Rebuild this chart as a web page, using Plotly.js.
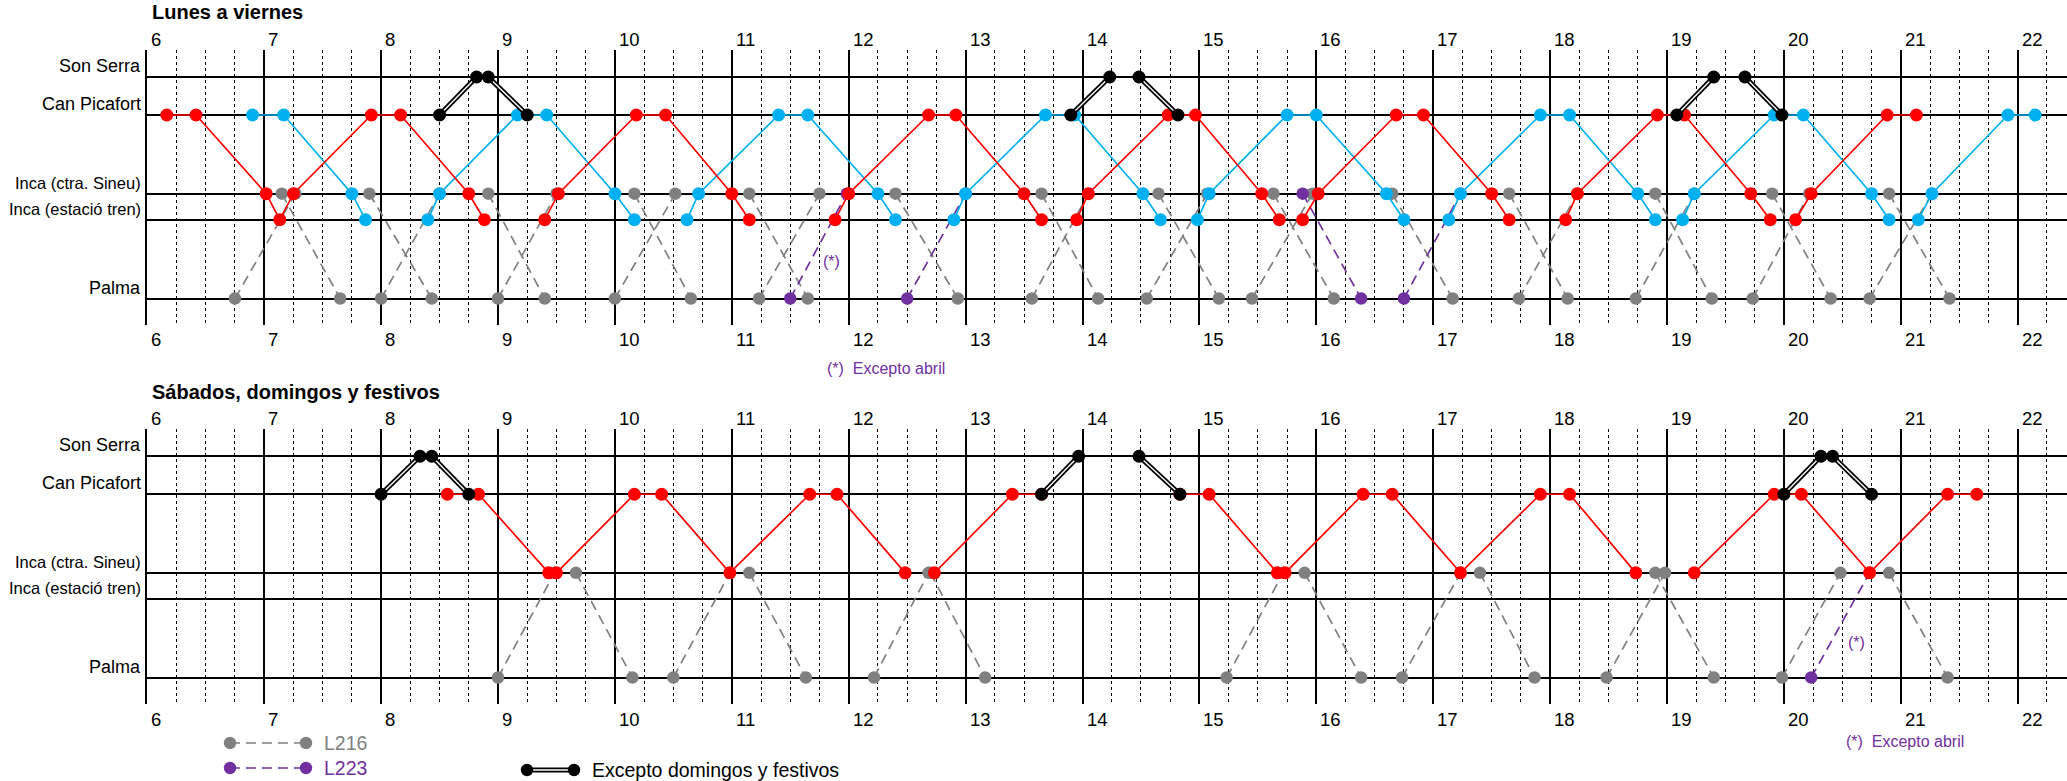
<!DOCTYPE html>
<html><head><meta charset="utf-8">
<script src="https://cdn.plot.ly/plotly-3.0.1.min.js"></script>
<style>html,body{margin:0;padding:0;background:#fff}</style>
</head><body><div id="chart" style="width:2067px;height:781px"></div>
<script>
// ---------------- DATA ----------------
const hourTicks  = [6,7,8,9,10,11,12,13,14,15,16,17,18,19,20,21,22];
const hourLabels = ["6","7","8","9","10","11","12","13","14","15","16","17","18","19","20","21","22"];
const stationCodes = ["SS","CP","IC","IE","PA"];
const stationNames = ["Son Serra","Can Picafort","Inca (ctra. Sineu)","Inca (estació tren)","Palma"];
const panelTitles = ["Lunes a viernes","Sábados, domingos y festivos"];

// Lunes a viernes
const wkRedTimes = ["6:10","6:25","7:01","7:08","7:15","7:55","8:10","8:45","8:53",null,
  "9:24","9:31","10:11","10:26","11:00","11:09",null,
  "11:53","12:00","12:41","12:55","13:30","13:39",null,
  "13:57","14:03","14:44","14:58","15:32","15:41",null,
  "15:53","16:01","16:41","16:55","17:30","17:39",null,
  "18:08","18:14","18:55","19:09","19:43","19:53",null,
  "20:06","20:14","20:53","21:08"];
const wkRedStops = ["CP","CP","IC","IE","IC","CP","CP","IC","IE",null,
  "IE","IC","CP","CP","IC","IE",null,
  "IE","IC","CP","CP","IC","IE",null,
  "IE","IC","CP","CP","IC","IE",null,
  "IE","IC","CP","CP","IC","IE",null,
  "IE","IC","CP","CP","IC","IE",null,
  "IE","IC","CP","CP"];
const wkBlueTimes = ["6:54","7:10","7:45","7:52",null,
  "8:24","8:30","9:10","9:25","10:00","10:10",null,
  "10:37","10:43","11:24","11:39","12:15","12:24",null,
  "12:54","13:00","13:41","13:56","14:31","14:40",null,
  "14:59","15:05","15:45","16:00","16:36","16:45",null,
  "17:08","17:14","17:55","18:10","18:45","18:54",null,
  "19:08","19:14","19:55","20:10","20:45","20:54",null,
  "21:09","21:16","21:55","22:09"];
const wkBlueStops = ["CP","CP","IC","IE",null,
  "IE","IC","CP","CP","IC","IE",null,
  "IE","IC","CP","CP","IC","IE",null,
  "IE","IC","CP","CP","IC","IE",null,
  "IE","IC","CP","CP","IC","IE",null,
  "IE","IC","CP","CP","IC","IE",null,
  "IE","IC","CP","CP","IC","IE",null,
  "IE","IC","CP","CP"];
const wkL216Times = ["6:45","7:16",null,"7:09","7:39",null,"7:54","8:26",null,"8:00","8:30",null,
  "8:55","9:24",null,"9:00","9:30",null,"10:10","10:39",null,"10:00","10:31",null,
  "11:09","11:39",null,"11:14","11:45",null,"12:24","12:56",null,"13:34","14:03",null,
  "13:39","14:08",null,"14:39","15:10",null,"14:33","15:04",null,"15:38","16:09",null,
  "15:27","15:58",null,"16:39","17:10",null,"17:39","18:09",null,"17:44","18:14",null,
  "18:54","19:23",null,"18:44","19:14",null,"19:44","20:13",null,"19:54","20:24",null,
  "20:54","21:25",null,"20:44","21:16"];
const wkL216Stops = ["PA","IC",null,"IC","PA",null,"IC","PA",null,"PA","IC",null,
  "IC","PA",null,"PA","IC",null,"IC","PA",null,"PA","IC",null,
  "IC","PA",null,"PA","IC",null,"IC","PA",null,"PA","IC",null,
  "IC","PA",null,"IC","PA",null,"PA","IC",null,"IC","PA",null,
  "PA","IC",null,"IC","PA",null,"IC","PA",null,"PA","IC",null,
  "IC","PA",null,"PA","IC",null,"PA","IC",null,"IC","PA",null,
  "IC","PA",null,"PA","IC"];
const wkL223Times = ["11:30","11:59",null,"12:30","13:00",null,"15:53","16:23",null,"16:45","17:14"];
const wkL223Stops = ["PA","IC",null,"PA","IC",null,"IC","PA",null,"PA","IC"];
const wkExcTimes = ["8:30","8:49",null,"8:55","9:15",null,"13:54","14:14",null,"14:29","14:49",null,"19:05","19:24",null,"19:40","19:59"];
const wkExcStops = ["CP","SS",null,"SS","CP",null,"CP","SS",null,"SS","CP",null,"CP","SS",null,"SS","CP"];

// Sábados, domingos y festivos
const weRedTimes = ["8:34","8:50","9:26",null,"9:30","10:10","10:24","10:59","11:40","11:54","12:29",null,
  "12:44","13:24","13:39",null,"14:50","15:05","15:40",null,
  "15:44","16:24","16:39","17:14","17:55","18:10","18:44",null,
  "19:14","19:55","20:09","20:44","21:24","21:39"];
const weRedStops = ["CP","CP","IC",null,"IC","CP","CP","IC","CP","CP","IC",null,
  "IC","CP","CP",null,"CP","CP","IC",null,
  "IC","CP","CP","IC","CP","CP","IC",null,
  "IC","CP","CP","IC","CP","CP"];
const weBlueTimes = [];
const weBlueStops = [];
const weL216Times = ["9:00","9:29",null,"9:40","10:09",null,"10:30","10:59",null,"11:09","11:38",null,
  "12:13","12:41",null,"12:42","13:10",null,"15:14","15:43",null,"15:54","16:23",null,
  "16:44","17:14",null,"17:24","17:52",null,"18:29","18:59",null,"18:54","19:24",null,
  "19:59","20:29",null,"20:54","21:24"];
const weL216Stops = ["PA","IC",null,"IC","PA",null,"PA","IC",null,"IC","PA",null,
  "PA","IC",null,"IC","PA",null,"PA","IC",null,"IC","PA",null,
  "PA","IC",null,"IC","PA",null,"PA","IC",null,"IC","PA",null,
  "PA","IC",null,"IC","PA"];
const weL223Times = ["20:14","20:44"];
const weL223Stops = ["PA","IC"];
const weExcTimes = ["8:00","8:20",null,"8:26","8:45",null,"13:39","13:58",null,"14:29","14:50",null,"20:00","20:19",null,"20:25","20:45"];
const weExcStops = ["CP","SS",null,"SS","CP",null,"CP","SS",null,"SS","CP",null,"CP","SS",null,"SS","CP"];

const legendNames = ["L216","L223","Excepto domingos y festivos"];
const noteText = "(*)\u00a0\u00a0Excepto abril";
const starText = "(*)";

// ---------------- LAYOUT CONSTANTS ----------------
const W = 2067, H = 781;
const FONT = "Liberation Sans, Arial, sans-serif";
const stationOffset = {SS:0, CP:38, IC:116.7, IE:142.7, PA:221.5};
const C = {red:"#FF0000", blue:"#00B0F0", gray:"#808080", purple:"#7030A0", black:"#000000"};
const DASH = "10px,6px";
const px = v => v / W, py = v => 1 - v / H;

function t2h(s){ if (s == null) return null; const p = s.split(":"); return +p[0] + (+p[1]) / 60; }
function toXY(times, stops){ return { x: times.map(t2h), y: stops.map(s => s == null ? null : stationOffset[s]) }; }

const panels = [
  {xa:"x",  ya:"y",  red:[wkRedTimes,wkRedStops], blue:[wkBlueTimes,wkBlueStops], l216:[wkL216Times,wkL216Stops], l223:[wkL223Times,wkL223Stops], exc:[wkExcTimes,wkExcStops], labTop:39.5, labBot:340, title:12.5, star:[11.85,184]},
  {xa:"x2", ya:"y2", red:[weRedTimes,weRedStops], blue:[weBlueTimes,weBlueStops], l216:[weL216Times,weL216Stops], l223:[weL223Times,weL223Stops], exc:[weExcTimes,weExcStops], labTop:418.5, labBot:719, title:391.5, star:[20.62,186]}
];

const traces = [];
panels.forEach(p => {
  const base = {xaxis:p.xa, yaxis:p.ya, hoverinfo:"skip", showlegend:false, connectgaps:false};
  const g = toXY(...p.l216);
  traces.push(Object.assign({}, base, {type:"scatter", mode:"lines+markers", x:g.x, y:g.y,
    line:{color:C.gray, width:1.7, dash:DASH}, marker:{color:C.gray, size:12.5}}));
  const pu = toXY(...p.l223);
  traces.push(Object.assign({}, base, {type:"scatter", mode:"lines+markers", x:pu.x, y:pu.y,
    line:{color:C.purple, width:1.7, dash:DASH}, marker:{color:C.purple, size:12.5}}));
  const b = toXY(...p.blue);
  if (b.x.length) traces.push(Object.assign({}, base, {type:"scatter", mode:"lines+markers", x:b.x, y:b.y,
    line:{color:C.blue, width:1.7}, marker:{color:C.blue, size:13}}));
  const r = toXY(...p.red);
  traces.push(Object.assign({}, base, {type:"scatter", mode:"lines+markers", x:r.x, y:r.y,
    line:{color:C.red, width:1.7}, marker:{color:C.red, size:13}}));
  const e = toXY(...p.exc);
  traces.push(Object.assign({}, base, {type:"scatter", mode:"lines", x:e.x, y:e.y, line:{color:C.black, width:5}}));
  traces.push(Object.assign({}, base, {type:"scatter", mode:"lines", x:e.x, y:e.y, line:{color:"#ffffff", width:1.4}}));
  traces.push(Object.assign({}, base, {type:"scatter", mode:"markers", x:e.x, y:e.y, marker:{color:C.black, size:13}}));
});

const xCommon = {
  range:[6, 6 + (W - 147.3) / 116.9], domain:[147.3 / W, 1],
  tick0:0, dtick:1, showgrid:true, gridcolor:"#000", gridwidth:2,
  minor:{tick0:0, dtick:0.25, showgrid:true, gridcolor:"#000", gridwidth:1, griddash:"3px,3px"},
  showticklabels:false, ticks:"", zeroline:false, showline:false, fixedrange:true
};
const yCommon = {
  range:[248, -27], tickvals: stationCodes.map(c => stationOffset[c]),
  showgrid:true, gridcolor:"#000", gridwidth:2, showticklabels:false, ticks:"",
  zeroline:false, showline:true, linecolor:"#000", linewidth:2, fixedrange:true
};

const annotations = [], shapes = [];
panels.forEach((p, i) => {
  annotations.push({xref:"paper", yref:"paper", x:px(150), y:py(p.title), xanchor:"left", yanchor:"middle",
    text:"<b>" + panelTitles[i] + "</b>", showarrow:false, font:{family:FONT, size:20, color:"#000"}});
  hourTicks.forEach((h, k) => {
    [p.labTop, p.labBot].forEach(yy => annotations.push({xref:p.xa, yref:"paper", x:h, y:py(yy), xanchor:"left", yanchor:"middle",
      xshift:2, text:hourLabels[k], showarrow:false, font:{family:FONT, size:18.5, color:"#000"}}));
  });
  stationCodes.forEach((c, k) => {
    annotations.push({xref:"paper", yref:p.ya, x:px(143), y:stationOffset[c], yshift:11, xanchor:"right", yanchor:"middle",
      text:stationNames[k], showarrow:false, font:{family:FONT, size:(c === "IC" || c === "IE") ? 16.5 : 18, color:"#000"}});
  });
  annotations.push({xref:p.xa, yref:p.ya, x:p.star[0], y:p.star[1], xanchor:"center", yanchor:"middle",
    text:starText, showarrow:false, font:{family:FONT, size:16, color:C.purple}});
});
annotations.push({xref:"paper", yref:"paper", x:px(886), y:py(368), xanchor:"center", yanchor:"middle",
  text:noteText, showarrow:false, font:{family:FONT, size:16, color:C.purple}});
annotations.push({xref:"paper", yref:"paper", x:px(1905), y:py(741), xanchor:"center", yanchor:"middle",
  text:noteText, showarrow:false, font:{family:FONT, size:16, color:C.purple}});

// legend (drawn with shapes)
function legendItem(x0, x1, y, color, dashed, dbl, name, textColor){
  if (dbl){
    shapes.push({type:"line", xref:"paper", yref:"paper", x0:px(x0), x1:px(x1), y0:py(y), y1:py(y), line:{color:"#000", width:5}});
    shapes.push({type:"line", xref:"paper", yref:"paper", x0:px(x0), x1:px(x1), y0:py(y), y1:py(y), line:{color:"#fff", width:1.4}});
  } else {
    shapes.push({type:"line", xref:"paper", yref:"paper", x0:px(x0), x1:px(x1), y0:py(y), y1:py(y), line:{color:color, width:1.7, dash:dashed ? DASH : "solid"}});
  }
  const r = 6.2;
  [x0, x1].forEach(xx => shapes.push({type:"circle", xref:"paper", yref:"paper", xsizemode:"pixel", ysizemode:"pixel",
    xanchor:px(xx), yanchor:py(y), x0:-r, x1:r, y0:-r, y1:r, fillcolor:color, line:{color:color, width:0}}));
  annotations.push({xref:"paper", yref:"paper", x:px(x1 + 16), y:py(y), xanchor:"left", yanchor:"middle",
    text:name, showarrow:false, font:{family:FONT, size:19.5, color:textColor}});
}
legendItem(230, 306, 743, C.gray, true, false, legendNames[0], C.gray);
legendItem(230, 306, 768, C.purple, true, false, legendNames[1], C.purple);
legendItem(527, 574, 770, C.black, false, true, legendNames[2], "#000");

const layout = {
  width:W, height:H, margin:{l:0, r:0, t:0, b:0}, paper_bgcolor:"#fff", plot_bgcolor:"#fff",
  showlegend:false, font:{family:FONT},
  xaxis:Object.assign({}, xCommon, {anchor:"y"}),
  xaxis2:Object.assign({}, xCommon, {anchor:"y2"}),
  yaxis:Object.assign({}, yCommon, {anchor:"x", domain:[1 - 325 / H, 1 - 50 / H]}),
  yaxis2:Object.assign({}, yCommon, {anchor:"x2", domain:[1 - 704 / H, 1 - 429.3 / H]}),
  annotations:annotations, shapes:shapes
};
Plotly.newPlot("chart", traces, layout, {displayModeBar:false, staticPlot:true});
</script></body></html>
